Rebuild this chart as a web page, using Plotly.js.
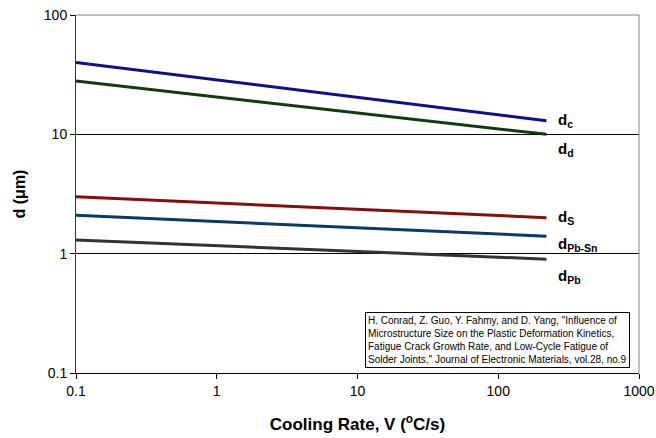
<!DOCTYPE html>
<html>
<head>
<meta charset="utf-8">
<script src="https://cdn.plot.ly/plotly-3.0.1.min.js"></script>
<style>html,body{margin:0;padding:0;background:#fff;}</style>
</head>
<body>
<div id="chart" style="width:656px;height:438px;"></div>
<script>
// Cooling rate endpoints (°C/s)
const coolingRate = [0.1, 220];
// Microstructure sizes d (µm)
const dC = [40, 13];
const dD = [28, 10];
const dS = [3.0, 2.0];
const dPbSn = [2.1, 1.4];
const dPb = [1.3, 0.9];

const seriesNames = ['d<sub>c</sub>', 'd<sub>d</sub>', 'd<sub>S</sub>', 'd<sub>Pb-Sn</sub>', 'd<sub>Pb</sub>'];
const seriesValues = [dC, dD, dS, dPbSn, dPb];
const seriesColors = ['#10108a', '#0d3d0d', '#8a0d0d', '#0b3a66', '#333333'];
// label vertical positions (in log10 units) next to each line end
const labelLogY = [1.12, 0.87, 0.305, 0.08, -0.195];

const xTicks = [0.1, 1, 10, 100, 1000];
const xTickText = ['0.1', '1', '10', '100', '1000'];
const yTicks = [0.1, 1, 10, 100];
const yTickText = ['0.1', '1', '10', '100'];

const citation = 'H. Conrad, Z. Guo, Y. Fahmy, and D. Yang, "Influence of<br>' +
  'Microstructure Size on the Plastic Deformation Kinetics,<br>' +
  'Fatigue Crack Growth Rate, and Low-Cycle Fatigue of<br>' +
  'Solder Joints," Journal of Electronic Materials, vol.28, no.9';

const FONT = 'Liberation Sans, Arial, sans-serif';

const traces = seriesValues.map((vals, i) => ({
  x: coolingRate,
  y: vals,
  type: 'scatter',
  mode: 'lines',
  name: seriesNames[i],
  line: {color: seriesColors[i], width: 3},
  hoverinfo: 'skip'
}));

const annotations = seriesNames.map((n, i) => ({
  x: 2.41, y: labelLogY[i], xref: 'x', yref: 'y',
  text: '<b>' + n + '</b>', showarrow: false,
  xanchor: 'left', yanchor: 'middle',
  font: {family: FONT, size: 15, color: '#000'}
}));

annotations.push({
  x: 0.5125, y: 0.014, xref: 'paper', yref: 'paper',
  xanchor: 'left', yanchor: 'bottom',
  text: citation, showarrow: false, align: 'left',
  bordercolor: '#000', borderwidth: 1, borderpad: 2, bgcolor: '#fff',
  font: {family: FONT, size: 10, color: '#000'}
});

const layout = {
  width: 656, height: 438,
  margin: {l: 76, r: 17, t: 15, b: 65},
  paper_bgcolor: '#fff', plot_bgcolor: '#fff',
  showlegend: false,
  font: {family: FONT, size: 14, color: '#000'},
  xaxis: {
    type: 'log', range: [-1, 3],
    tickvals: xTicks, ticktext: xTickText,
    ticks: 'outside', ticklen: 5, tickcolor: '#000',
    showgrid: false, zeroline: false,
    showline: true, linecolor: '#000', linewidth: 1,
    tickfont: {family: FONT, size: 14, color: '#000'},
    title: {text: '<b>Cooling Rate, V (<sup>o</sup>C/s)</b>', standoff: 20,
      font: {family: FONT, size: 17, color: '#000'}}
  },
  yaxis: {
    type: 'log', range: [-1, 2],
    tickvals: yTicks, ticktext: yTickText,
    ticks: 'outside', ticklen: 5, tickcolor: '#000',
    showgrid: true, gridcolor: '#000', gridwidth: 1, zeroline: false,
    showline: true, linecolor: '#333', linewidth: 1,
    tickfont: {family: FONT, size: 14, color: '#000'},
    title: {text: '<b>d (μm)</b>', standoff: 14,
      font: {family: FONT, size: 16, color: '#000'}}
  },
  shapes: [
    {type: 'line', xref: 'paper', yref: 'paper', x0: 0, x1: 1, y0: 1, y1: 1,
     line: {color: '#808080', width: 1}, layer: 'above'},
    {type: 'line', xref: 'paper', yref: 'paper', x0: 1, x1: 1, y0: 0, y1: 1,
     line: {color: '#808080', width: 1}, layer: 'above'}
  ],
  annotations: annotations
};

Plotly.newPlot('chart', traces, layout, {displayModeBar: false, staticPlot: true});
</script>
</body>
</html>
